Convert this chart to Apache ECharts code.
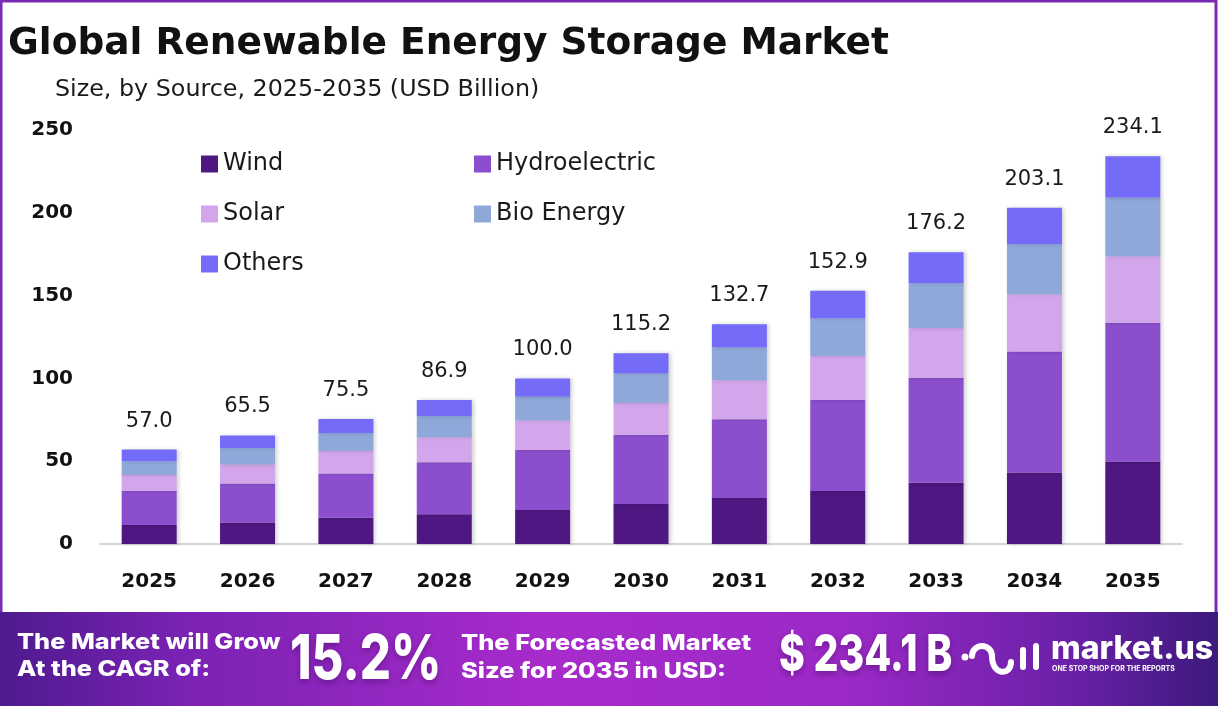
<!DOCTYPE html>
<html>
<head>
<meta charset="utf-8">
<title>Global Renewable Energy Storage Market</title>
<script src="https://cdn.jsdelivr.net/npm/echarts@6/dist/echarts.min.js"></script>
<style>
  html, body { margin: 0; padding: 0; background: #fff; }
  #chart { width: 1218px; height: 706px; }
</style>
</head>
<body>
<div id="chart"></div>
<script>
// values (USD billion)
const years = ['2025', '2026', '2027', '2028', '2029', '2030', '2031', '2032', '2033', '2034', '2035'];
const wind = [11.5, 13.0, 15.8, 18.0, 20.5, 24.2, 27.8, 32.0, 37.0, 43.2, 49.8];
const hydroelectric = [20.5, 23.5, 26.8, 31.3, 36.2, 41.8, 47.6, 54.9, 63.2, 73.0, 83.8];
const solar = [9.7, 11.5, 13.6, 15.2, 17.9, 19.2, 23.5, 26.6, 30.3, 34.6, 40.2];
const bioEnergy = [8.3, 9.9, 10.8, 12.8, 14.3, 17.8, 19.8, 22.7, 27.0, 30.4, 35.3];
const others = [7.0, 7.6, 8.5, 9.6, 11.1, 12.2, 14.0, 16.7, 18.7, 21.9, 25.0];
const totals = [57.0, 65.5, 75.5, 86.9, 100.0, 115.2, 132.7, 152.9, 176.2, 203.1, 234.1];
const yMax = 250;
const yStep = 50;

const FONT = '"DejaVu Sans", Inter, sans-serif';
const BANNER_FONT = 'Inter, "Noto Sans", sans-serif';
const colors = {
  Wind: '#4e1782',
  Hydroelectric: '#8b4fcd',
  Solar: '#d3a6ec',
  'Bio Energy': '#8fa8da',
  Others: '#746bf8'
};

const chart = echarts.init(document.getElementById('chart'), null, { renderer: 'canvas' });

function barSeries(name, data, withTotal) {
  const s = {
    name: name,
    type: 'bar',
    stack: 'total',
    data: data,
    barWidth: 55,
    itemStyle: {
      color: colors[name],
      shadowColor: 'rgba(0,0,0,0.18)',
      shadowBlur: 4,
      shadowOffsetX: 2
    },
    emphasis: { disabled: true }
  };
  if (withTotal) {
    s.label = {
      show: true,
      position: 'top',
      distance: 18,
      fontFamily: FONT,
      fontSize: 21,
      color: '#1a1a1a',
      formatter: p => totals[p.dataIndex].toFixed(1)
    };
  }
  return s;
}

// banner text helper: white bold text, vertically centred on y
function bannerText(text, x, y, size, sx, shadow) {
  return {
    type: 'text', x: x, y: y, scaleX: sx, z: 12,
    style: {
      text: text,
      fill: '#fff',
      font: '800 ' + size + 'px ' + BANNER_FONT,
      verticalAlign: 'middle',
      textShadowColor: shadow ? 'rgba(40,0,60,0.35)' : 'transparent',
      textShadowBlur: shadow ? 6 : 0,
      textShadowOffsetY: shadow ? 3 : 0
    }
  };
}

const legendText = { fontFamily: FONT, fontSize: 24, color: '#1a1a1a', lineHeight: 26 };
const whiteStroke = { stroke: '#fff', lineWidth: 6, lineCap: 'round', fill: 'none' };

const option = {
  backgroundColor: '#fff',
  animation: false,
  title: [
    {
      text: 'Global Renewable Energy Storage Market',
      left: 8,
      top: 25,
      padding: 0,
      textStyle: { fontFamily: FONT, fontSize: 37.5, fontWeight: 'bold', color: '#111' }
    },
    {
      text: 'Size, by Source, 2025-2035 (USD Billion)',
      left: 55,
      top: 78,
      padding: 0,
      textStyle: { fontFamily: FONT, fontSize: 23.8, fontWeight: 'normal', color: '#1a1a1a' }
    }
  ],
  legend: [
    {
      orient: 'vertical',
      left: 196,
      top: 146,
      itemWidth: 17,
      itemHeight: 17,
      itemGap: 24,
      icon: 'rect',
      data: ['Wind', 'Solar', 'Others'],
      textStyle: legendText
    },
    {
      orient: 'vertical',
      left: 469,
      top: 146,
      itemWidth: 17,
      itemHeight: 17,
      itemGap: 24,
      icon: 'rect',
      data: ['Hydroelectric', 'Bio Energy'],
      textStyle: legendText
    }
  ],
  grid: { left: 100, right: 36, top: 130, bottom: 162, containLabel: false },
  xAxis: {
    type: 'category',
    data: years,
    axisLine: { lineStyle: { color: '#d4d4d4', width: 2 } },
    axisTick: { show: false },
    axisLabel: { fontFamily: FONT, fontSize: 20, fontWeight: 'bold', color: '#111', margin: 28 }
  },
  yAxis: {
    type: 'value',
    min: 0,
    max: yMax,
    interval: yStep,
    axisLine: { show: false },
    axisTick: { show: false },
    splitLine: { show: false },
    axisLabel: { fontFamily: FONT, fontSize: 20, fontWeight: 'bold', color: '#111', margin: 27 }
  },
  series: [
    barSeries('Wind', wind),
    barSeries('Hydroelectric', hydroelectric),
    barSeries('Solar', solar),
    barSeries('Bio Energy', bioEnergy),
    barSeries('Others', others, true)
  ],
  graphic: [
    // purple frame
    {
      type: 'rect',
      shape: { x: 1, y: 1, width: 1215, height: 704 },
      style: { fill: 'none', stroke: '#7a2bb5', lineWidth: 3 },
      z: 10
    },
    // bottom banner
    {
      type: 'rect',
      shape: { x: 0, y: 612, width: 1218, height: 94 },
      style: {
        fill: new echarts.graphic.LinearGradient(0, 0, 1, 0, [
          { offset: 0, color: '#4e1a8e' },
          { offset: 0.15, color: '#7a22b4' },
          { offset: 0.45, color: '#a82bcb' },
          { offset: 0.7, color: '#9a29c6' },
          { offset: 0.88, color: '#6a20a8' },
          { offset: 1, color: '#3c1a7c' }
        ])
      },
      z: 11
    },
    bannerText('The Market will Grow', 17, 642, 22, 1.15),
    bannerText('At the CAGR of:', 17, 669, 22, 1.15),
    bannerText('15.2%', 290, 660, 62, 0.79, true),
    bannerText('The Forecasted Market', 461, 643, 22, 1.155),
    bannerText('Size for 2035 in USD:', 461, 671, 22, 1.155),
    bannerText('$ 234.1 B', 779, 656, 51, 0.77, true),
    // market.us logo mark
    {
      type: 'circle', z: 12,
      shape: { cx: 965, cy: 657, r: 3.5 },
      style: { fill: '#fff' }
    },
    {
      type: 'arc', z: 12,
      shape: { cx: 982, cy: 656, r: 10, startAngle: Math.PI, endAngle: 0, clockwise: true },
      style: whiteStroke
    },
    {
      type: 'bezierCurve', z: 12,
      shape: { x1: 992, y1: 656, cpx1: 992, cpy1: 676, cpx2: 1011, cpy2: 676, x2: 1011, y2: 662 },
      style: whiteStroke
    },
    {
      type: 'line', z: 12,
      shape: { x1: 1023, y1: 650, x2: 1023, y2: 667 },
      style: whiteStroke
    },
    {
      type: 'line', z: 12,
      shape: { x1: 1036, y1: 646, x2: 1036, y2: 667 },
      style: whiteStroke
    },
    bannerText('market.us', 1051, 649, 32, 1),
    {
      type: 'text', x: 1052, y: 669, z: 12,
      style: {
        text: 'ONE STOP SHOP FOR THE REPORTS',
        fill: '#fff',
        font: '700 7px ' + BANNER_FONT,
        verticalAlign: 'middle'
      }
    }
  ]
};

chart.setOption(option);
window.addEventListener('resize', () => chart.resize());
</script>
</body>
</html>
